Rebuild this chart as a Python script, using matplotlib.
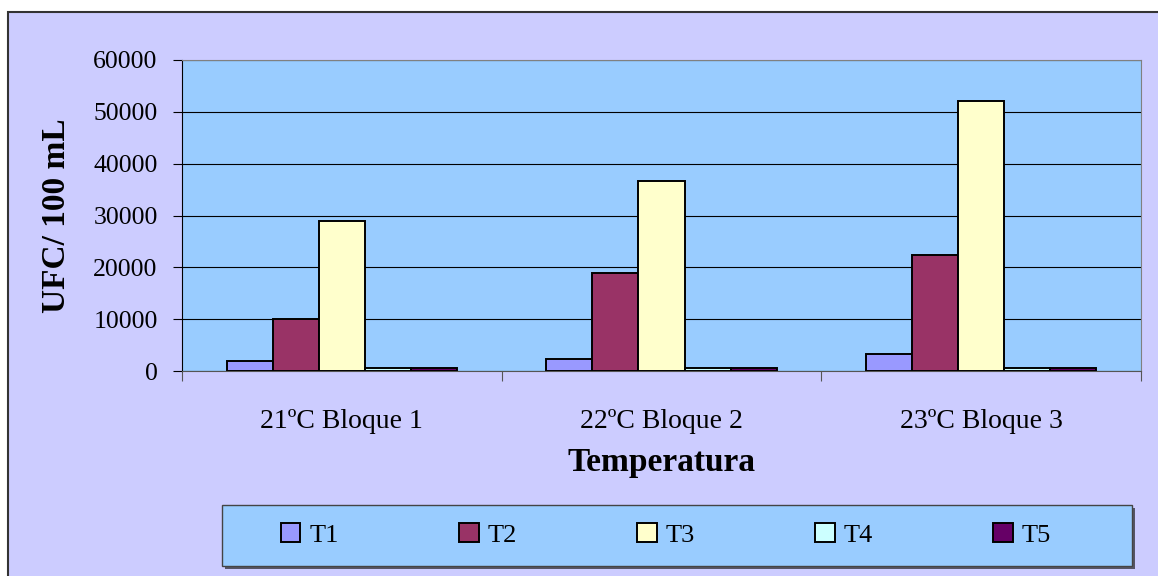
import matplotlib.pyplot as plt
import numpy as np
from matplotlib.patches import Rectangle

categories = ['21ºC Bloque 1', '22ºC Bloque 2', '23ºC Bloque 3']
series_names = ['T1', 'T2', 'T3', 'T4', 'T5']
t1 = [2000, 2400, 3200]
t2 = [10000, 18900, 22400]
t3 = [29000, 36700, 52100]
t4 = [500, 500, 500]
t5 = [500, 500, 500]
yticks = [0, 10000, 20000, 30000, 40000, 50000, 60000]

colors = ['#9999FF', '#993366', '#FFFFCC', '#CCFFFF', '#660066']

plt.rcParams['font.family'] = ['Liberation Serif', 'DejaVu Serif']

fig = plt.figure(figsize=(11.58, 5.76), dpi=100)
fig.patch.set_facecolor('white')

# outer chart area border
fig.patches.append(Rectangle((8 / 1158, -0.1), 1.2, 1 - 12 / 576 + 0.1,
                             transform=fig.transFigure, facecolor='#CCCCFF',
                             edgecolor='#333333', linewidth=1.5, zorder=0))

ax = fig.add_axes([182 / 1158, 1 - 371 / 576, 959 / 1158, 311 / 576])
ax.set_zorder(3)
ax.set_facecolor('#99CCFF')

values = [t1, t2, t3, t4, t5]
x = np.arange(len(categories))
width = 0.144
for i, (name, vals) in enumerate(zip(series_names, values)):
    ax.bar(x - 2 * width + i * width, vals, width, color=colors[i],
           edgecolor='black', linewidth=1.4, label=name, zorder=3)

ax.set_xlim(-0.5, 2.5)
ax.set_ylim(0, 60000)
ax.set_yticks(yticks)
ax.set_yticklabels([str(v) for v in yticks], fontsize=18.5)
ax.grid(axis='y', color='black', linewidth=0.8, zorder=1)
ax.set_axisbelow(True)

ax.set_xticks([-0.5, 0.5, 1.5, 2.5])
ax.set_xticklabels([])
ax.set_xticks(x, minor=True)
ax.set_xticklabels(categories, minor=True, fontsize=20)
ax.tick_params(axis='x', which='minor', length=0, pad=27)
ax.tick_params(axis='x', which='major', length=7, color='#555555')
ax.tick_params(axis='y', length=6.5, pad=11)

for s in ['top', 'right']:
    ax.spines[s].set_color('#808080')
ax.spines['left'].set_color('black')
ax.spines['bottom'].set_color('#555555')

ax.set_ylabel('UFC/ 100 mL', fontsize=24, fontweight='bold', labelpad=15)
ax.set_xlabel('Temperatura', fontsize=24, fontweight='bold', labelpad=10)

# legend box
fig.patches.append(Rectangle((225 / 1158, 1 - 569 / 576), 910 / 1158, 61 / 576,
                             transform=fig.transFigure, facecolor='#555566',
                             edgecolor='none', zorder=1))
fig.patches.append(Rectangle((222 / 1158, 1 - 566 / 576), 910 / 1158, 61 / 576,
                             transform=fig.transFigure, facecolor='#99CCFF',
                             edgecolor='#444444', linewidth=1, zorder=2))
leg = fig.legend(loc='center', bbox_to_anchor=(666 / 1158, 1 - 535 / 576),
                 ncol=5, frameon=False, fontsize=19, handlelength=0.75,
                 handleheight=0.75, handletextpad=0.34, columnspacing=4.55)
leg.set_zorder(5)

plt.savefig('out.png', dpi=100)
